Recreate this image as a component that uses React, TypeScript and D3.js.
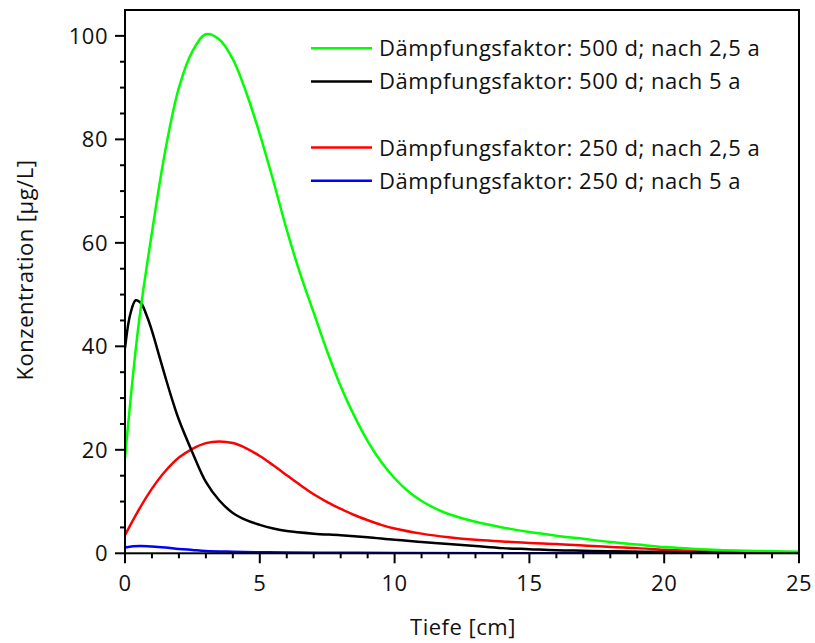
import React from "react";
import * as d3 from "d3";

const xTicks = [0, 5, 10, 15, 20, 25];
const yTicks = [0, 20, 40, 60, 80, 100];

const greenDepth = [0, 0.5, 1, 1.5, 2, 2.5, 3, 3.5, 4, 4.5, 5, 5.5, 6, 6.5, 7, 7.5, 8, 8.5, 9, 9.5, 10, 10.5, 11, 11.5, 12, 13, 14, 15, 16, 17, 18, 19, 20, 21, 22, 23, 24, 25];
const greenConc = [18.4, 44, 62, 78, 90, 97, 100.3, 99.3, 95.5, 89, 81, 72, 62.5, 54, 46.5, 39, 32.3, 26.6, 21.7, 17.7, 14.5, 12.0, 10.1, 8.7, 7.6, 6.1, 5.0, 4.1, 3.4, 2.8, 2.2, 1.7, 1.2, 0.9, 0.65, 0.5, 0.4, 0.3];

const blackDepth = [0, 0.2, 0.4, 0.6, 0.8, 1, 1.25, 1.5, 1.75, 2, 2.5, 3, 3.5, 4, 4.5, 5, 5.5, 6, 7, 8, 9, 10, 11, 12, 13, 14, 15, 16, 17, 18, 20, 22, 25];
const blackConc = [39.6, 46.3, 48.9, 48.3, 46, 43, 38.5, 34, 29.7, 25.8, 19.5, 13.8, 10.2, 7.8, 6.4, 5.5, 4.8, 4.3, 3.8, 3.5, 3.1, 2.6, 2.2, 1.8, 1.4, 1.0, 0.8, 0.6, 0.5, 0.4, 0.25, 0.15, 0.1];

const redDepth = [0, 0.5, 1, 1.5, 2, 2.5, 3, 3.5, 4, 4.5, 5, 5.5, 6, 6.5, 7, 7.5, 8, 8.5, 9, 9.5, 10, 11, 12, 13, 14, 15, 16, 17, 18, 19, 20, 21, 22, 23, 25];
const redConc = [3.5, 8.3, 12.5, 15.9, 18.5, 20.2, 21.3, 21.6, 21.3, 20.3, 18.8, 17, 15.1, 13.2, 11.4, 9.9, 8.6, 7.4, 6.4, 5.5, 4.8, 3.8, 3.1, 2.6, 2.3, 2.0, 1.8, 1.5, 1.2, 1.0, 0.7, 0.5, 0.4, 0.3, 0.2];

const blueDepth = [0, 0.3, 0.6, 1, 1.5, 2, 2.5, 3, 4, 5, 6, 8, 10, 15, 25];
const blueConc = [1.1, 1.35, 1.4, 1.3, 1.1, 0.85, 0.65, 0.45, 0.3, 0.2, 0.15, 0.1, 0.05, 0.03, 0];

const seriesNames = [
  "Dämpfungsfaktor: 500 d; nach 2,5 a",
  "Dämpfungsfaktor: 500 d; nach 5 a",
  "Dämpfungsfaktor: 250 d; nach 2,5 a",
  "Dämpfungsfaktor: 250 d; nach 5 a",
];
const seriesColors = ["#00ff00", "#000000", "#ff0000", "#0000ff"];
const seriesDepths = [greenDepth, blackDepth, redDepth, blueDepth];
const seriesConcs = [greenConc, blackConc, redConc, blueConc];
const legendRows = [0, 1, 3, 4];

const W = 815;
const H = 643;
const left = 125;
const right = 799;
const top = 10;
const bottom = 553.3;
const FONT = "'Open Sans', sans-serif";
const FS = 22;
const LS = 0.5;

export default function App() {
  const x = d3.scaleLinear().domain([0, 25]).range([left, right]);
  const y = d3.scaleLinear().domain([0, 105]).range([bottom, top]);
  const line = d3
    .line<[number, number]>()
    .x((d) => x(d[0]))
    .y((d) => y(d[1]))
    .curve(d3.curveCatmullRom.alpha(0.5));

  const xMinor = d3.range(0, 26, 1).filter((v) => v % 5 !== 0);
  const yMinor = d3.range(0, 105, 5).filter((v) => v % 20 !== 0);

  return (
    <svg
      width={W}
      height={H}
      style={{ position: "absolute", left: 0, top: 0, background: "#fff" }}
      fontFamily={FONT}
      letterSpacing={LS}
    >
      <rect x={0} y={0} width={W} height={H} fill="#fff" />
      <defs>
        <clipPath id="plotclip">
          <rect x={left} y={top} width={right - left} height={bottom - top} />
        </clipPath>
      </defs>
      <g clipPath="url(#plotclip)">
        {[3, 2, 1, 0].map((i) => {
          const pts = seriesDepths[i].map((d, k) => [d, seriesConcs[i][k]] as [number, number]);
          return (
            <path
              key={i}
              d={line(pts) || ""}
              fill="none"
              stroke={seriesColors[i]}
              strokeWidth={2.5}
              strokeLinejoin="round"
            />
          );
        })}
      </g>
      <rect x={left} y={top} width={right - left} height={bottom - top} fill="none" stroke="#000" strokeWidth={2} />
      {yTicks.map((t) => (
        <g key={"yt" + t}>
          <line x1={left - 10} x2={left} y1={y(t)} y2={y(t)} stroke="#000" strokeWidth={2} />
          <text x={left - 17} y={y(t)} dy="0.36em" textAnchor="end" fontSize={FS} fill="#111">
            {t}
          </text>
        </g>
      ))}
      {yMinor.map((t) => (
        <line key={"ym" + t} x1={left - 5} x2={left} y1={y(t)} y2={y(t)} stroke="#000" strokeWidth={2} />
      ))}
      {xTicks.map((t) => (
        <g key={"xt" + t}>
          <line x1={x(t)} x2={x(t)} y1={bottom} y2={bottom + 10} stroke="#000" strokeWidth={2} />
          <text x={x(t)} y={591} textAnchor="middle" fontSize={FS} fill="#111">
            {t}
          </text>
        </g>
      ))}
      {xMinor.map((t) => (
        <line key={"xm" + t} x1={x(t)} x2={x(t)} y1={bottom} y2={bottom + 5} stroke="#000" strokeWidth={2} />
      ))}
      <text x={463} y={635} textAnchor="middle" fontSize={FS} fill="#111">
        Tiefe [cm]
      </text>
      <text transform="translate(33,270) rotate(-90)" textAnchor="middle" fontSize={FS} fill="#111">
        Konzentration [µg/L]
      </text>
      {seriesNames.map((name, i) => {
        const ly = 48.3 + legendRows[i] * 33.1;
        return (
          <g key={"lg" + i}>
            <line x1={311} x2={372} y1={ly} y2={ly} stroke={seriesColors[i]} strokeWidth={2.5} />
            <text x={379} y={ly} dy="0.36em" fontSize={FS} fill="#111">
              {name}
            </text>
          </g>
        );
      })}
    </svg>
  );
}
